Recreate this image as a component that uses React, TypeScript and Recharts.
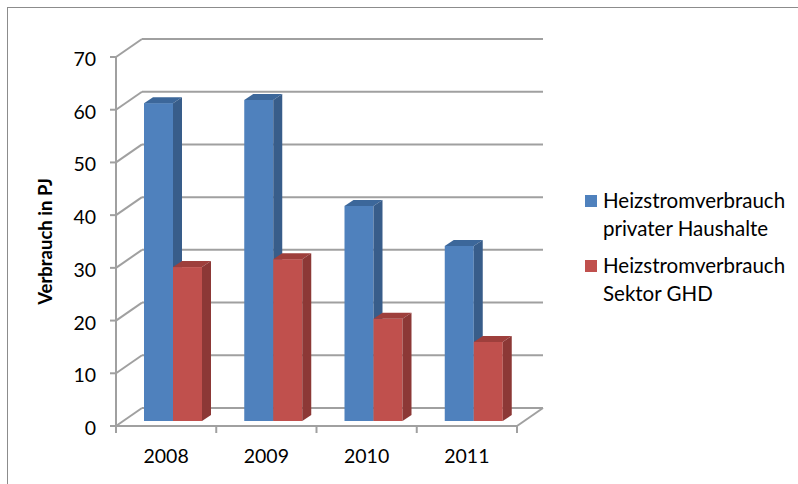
import { BarChart, Bar, XAxis, YAxis, CartesianGrid, ReferenceLine } from 'recharts';

const years = ['2008', '2009', '2010', '2011'];
const haushalte = [60.3, 60.9, 40.8, 33.2];
const ghd = [29.2, 30.7, 19.4, 15.0];
const yTicks = [0, 10, 20, 30, 40, 50, 60, 70];
const legendHaushalte = ['Heizstromverbrauch', 'privater Haushalte'];
const legendGhd = ['Heizstromverbrauch', 'Sektor GHD'];
const yLabel = 'Verbrauch in PJ';

const data = years.map((year, i) => ({ year, haushalte: haushalte[i], ghd: ghd[i] }));

// 3d look: back wall offset, bar plane offset, bar depth
const DX = 26;
const DY = -18;
const BX = 7;
const BY = -5;
const BDX = 9;
const BDY = -6;
const GRID = '#a0a0a0';
const FONT = 'Lato, "Open Sans", sans-serif';

const makeBar = (front: string, top: string, side: string) => (p: any) => {
  const { x, y, width, height } = p;
  if (height == null || width == null) return <g />;
  const X = x + BX;
  const Y = y + BY;
  const w = width;
  const h = height;
  return (
    <g>
      <rect x={X} y={Y} width={w} height={h} fill={front} />
      <polygon points={`${X},${Y} ${X + w},${Y} ${X + w + BDX},${Y + BDY} ${X + BDX},${Y + BDY}`} fill={top} />
      <polygon
        points={`${X + w},${Y} ${X + w + BDX},${Y + BDY} ${X + w + BDX},${Y + h + BDY} ${X + w},${Y + h}`}
        fill={side}
      />
    </g>
  );
};

const gridLine = (p: any) => (
  <g key={`grid-${p.index}-${p.y1}`}>
    <line x1={p.x1} y1={p.y1} x2={p.x1 + DX} y2={p.y1 + DY} stroke={GRID} strokeWidth={2} />
    <line x1={p.x1 + DX} y1={p.y1 + DY} x2={p.x2 + DX} y2={p.y2 + DY} stroke={GRID} strokeWidth={2} />
  </g>
);

const floorEdge = (p: any) => {
  const xr = Math.max(p.x1, p.x2);
  return <line x1={xr} y1={p.y1} x2={xr + DX} y2={p.y1 + DY} stroke={GRID} strokeWidth={2} />;
};

const XTick = (p: any) => {
  const { x, y, payload, index, width } = p;
  const half = payload?.offset ?? width / years.length / 2;
  return (
    <g>
      <line x1={x - half} y1={y} x2={x - half} y2={y + 7} stroke={GRID} strokeWidth={2} />
      {index === years.length - 1 && (
        <line x1={x + half} y1={y} x2={x + half} y2={y + 7} stroke={GRID} strokeWidth={2} />
      )}
      <text x={x} y={y + 37} textAnchor="middle" fontSize={19.5} fontFamily={FONT} fill="#000">
        {payload.value}
      </text>
    </g>
  );
};

const YTick = (p: any) => {
  const { x, y, payload } = p;
  return (
    <text x={x} y={y + 9} textAnchor="end" fontSize={19.5} fontFamily={FONT} fill="#000">
      {payload.value}
    </text>
  );
};

const YLabel = (p: any) => {
  const vb = p.viewBox || {};
  const cx = 45;
  const cy = vb.y + vb.height / 2;
  return (
    <text
      x={cx}
      y={cy}
      transform={`rotate(-90, ${cx}, ${cy})`}
      textAnchor="middle"
      dominantBaseline="central"
      fontSize={18.5}
      fontWeight="bold"
      fontFamily={FONT}
      fill="#000"
    >
      {yLabel}
    </text>
  );
};

const LegendEntry = ({ color, lines, top }: { color: string; lines: string[]; top: number }) => (
  <div style={{ position: 'absolute', left: 585, top, fontFamily: FONT, fontSize: 20.5, lineHeight: '28px', color: '#000' }}>
    <div style={{ position: 'absolute', left: 0, top: 9, width: 12, height: 12, background: color }} />
    <div style={{ marginLeft: 18, whiteSpace: 'nowrap' }}>
      {lines.map((l) => (
        <div key={l}>{l}</div>
      ))}
    </div>
  </div>
);

export default function App() {
  return (
    <div style={{ position: 'relative', width: 798, height: 484, overflow: 'hidden', background: '#fff' }}>
      <style>{'body{margin:0}'}</style>
      <div
        style={{
          position: 'absolute',
          left: 7,
          top: 7,
          width: 820,
          height: 500,
          borderLeft: '1px solid #8c8c8c',
          borderTop: '1px solid #8c8c8c',
        }}
      />
      <div style={{ position: 'absolute', left: 0, top: 0 }}>
        <BarChart
          width={798}
          height={484}
          data={data}
          margin={{ top: 57, right: 281, bottom: 28, left: 56 }}
          barGap={0}
        >
          <CartesianGrid vertical={false} horizontal={gridLine} />
          <XAxis
            dataKey="year"
            height={30}
            axisLine={{ stroke: GRID, strokeWidth: 2 }}
            tickLine={false}
            tickSize={0}
            tickMargin={0}
            tick={<XTick />}
            interval={0}
          />
          <YAxis
            width={60}
            domain={[0, 70]}
            ticks={yTicks}
            axisLine={{ stroke: GRID, strokeWidth: 2 }}
            tickLine={{ stroke: GRID, strokeWidth: 2 }}
            tickSize={6}
            tickMargin={14}
            tick={<YTick />}
            interval={0}
            label={YLabel}
          />
          <ReferenceLine y={0} shape={floorEdge} />
          <Bar dataKey="haushalte" barSize={29} isAnimationActive={false} shape={makeBar('#4f81bd', '#3c679a', '#385d8a')} />
          <Bar dataKey="ghd" barSize={29} isAnimationActive={false} shape={makeBar('#c0504d', '#9e3f3c', '#8c3836')} />
        </BarChart>
      </div>
      <LegendEntry color="#4f81bd" lines={legendHaushalte} top={186} />
      <LegendEntry color="#c0504d" lines={legendGhd} top={251} />
    </div>
  );
}
